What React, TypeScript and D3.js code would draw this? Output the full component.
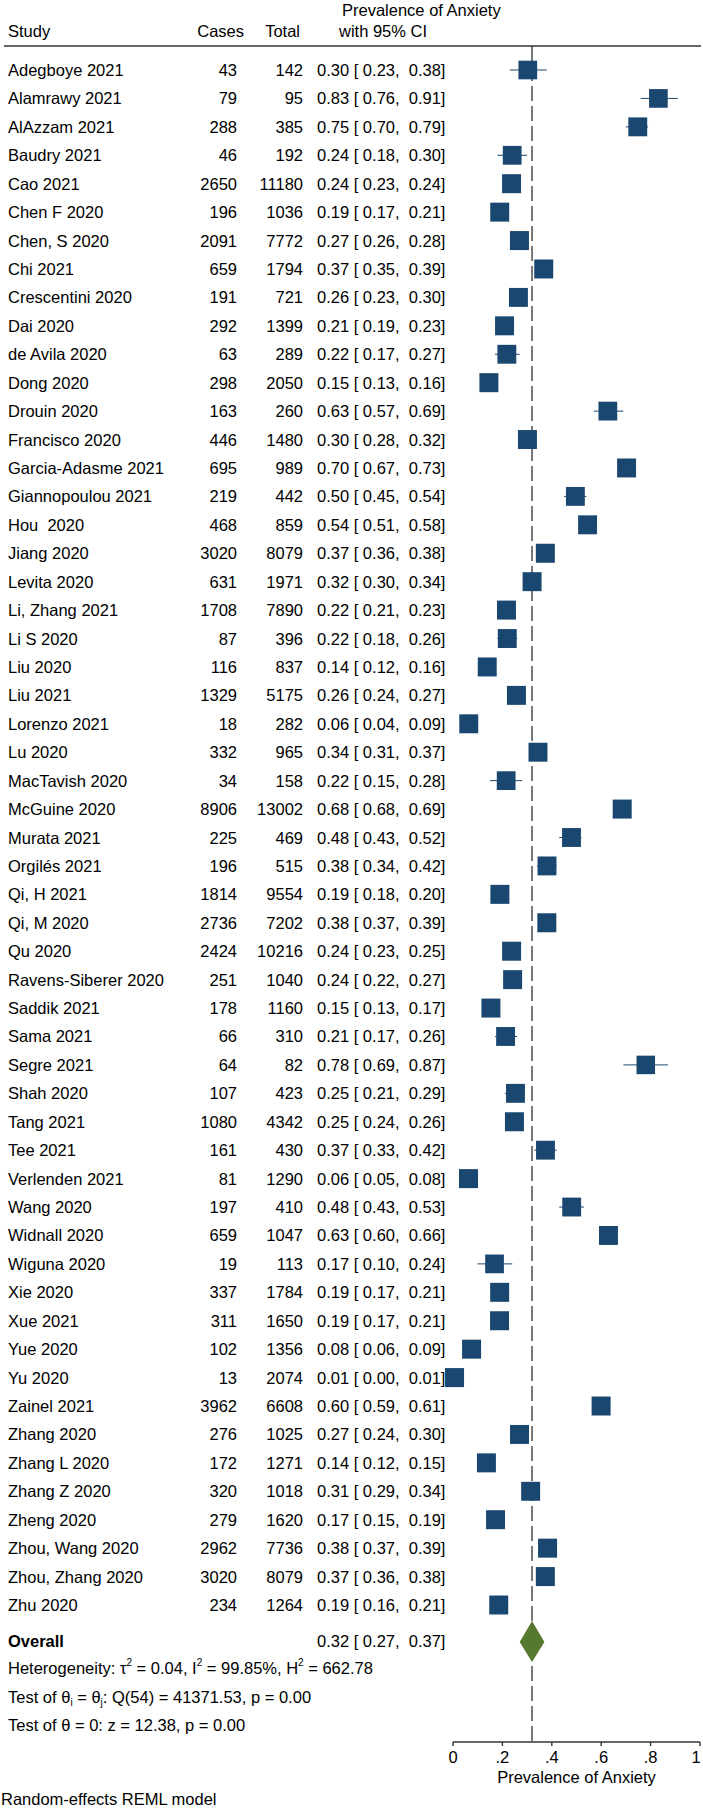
import React from "react";
import * as d3 from "d3";

const studies = [
  "Adegboye 2021", "Alamrawy 2021", "AlAzzam 2021", "Baudry 2021", "Cao 2021",
  "Chen F 2020", "Chen, S 2020", "Chi 2021", "Crescentini 2020", "Dai 2020",
  "de Avila 2020", "Dong 2020", "Drouin 2020", "Francisco 2020", "Garcia-Adasme 2021",
  "Giannopoulou 2021", "Hou  2020", "Jiang 2020", "Levita 2020", "Li, Zhang 2021",
  "Li S 2020", "Liu 2020", "Liu 2021", "Lorenzo 2021", "Lu 2020",
  "MacTavish 2020", "McGuine 2020", "Murata 2021", "Orgilés 2021", "Qi, H 2021",
  "Qi, M 2020", "Qu 2020", "Ravens-Siberer 2020", "Saddik 2021", "Sama 2021",
  "Segre 2021", "Shah 2020", "Tang 2021", "Tee 2021", "Verlenden 2021",
  "Wang 2020", "Widnall 2020", "Wiguna 2020", "Xie 2020", "Xue 2021",
  "Yue 2020", "Yu 2020", "Zainel 2021", "Zhang 2020", "Zhang L 2020",
  "Zhang Z 2020", "Zheng 2020", "Zhou, Wang 2020", "Zhou, Zhang 2020", "Zhu 2020",
];

const cases = [
  43, 79, 288, 46, 2650, 196, 2091, 659, 191, 292,
  63, 298, 163, 446, 695, 219, 468, 3020, 631, 1708,
  87, 116, 1329, 18, 332, 34, 8906, 225, 196, 1814,
  2736, 2424, 251, 178, 66, 64, 107, 1080, 161, 81,
  197, 659, 19, 337, 311, 102, 13, 3962, 276, 172,
  320, 279, 2962, 3020, 234,
];

const totals = [
  142, 95, 385, 192, 11180, 1036, 7772, 1794, 721, 1399,
  289, 2050, 260, 1480, 989, 442, 859, 8079, 1971, 7890,
  396, 837, 5175, 282, 965, 158, 13002, 469, 515, 9554,
  7202, 10216, 1040, 1160, 310, 82, 423, 4342, 430, 1290,
  410, 1047, 113, 1784, 1650, 1356, 2074, 6608, 1025, 1271,
  1018, 1620, 7736, 8079, 1264,
];

const es = [
  0.30, 0.83, 0.75, 0.24, 0.24, 0.19, 0.27, 0.37, 0.26, 0.21,
  0.22, 0.15, 0.63, 0.30, 0.70, 0.50, 0.54, 0.37, 0.32, 0.22,
  0.22, 0.14, 0.26, 0.06, 0.34, 0.22, 0.68, 0.48, 0.38, 0.19,
  0.38, 0.24, 0.24, 0.15, 0.21, 0.78, 0.25, 0.25, 0.37, 0.06,
  0.48, 0.63, 0.17, 0.19, 0.19, 0.08, 0.01, 0.60, 0.27, 0.14,
  0.31, 0.17, 0.38, 0.37, 0.19,
];

const lo = [
  0.23, 0.76, 0.70, 0.18, 0.23, 0.17, 0.26, 0.35, 0.23, 0.19,
  0.17, 0.13, 0.57, 0.28, 0.67, 0.45, 0.51, 0.36, 0.30, 0.21,
  0.18, 0.12, 0.24, 0.04, 0.31, 0.15, 0.68, 0.43, 0.34, 0.18,
  0.37, 0.23, 0.22, 0.13, 0.17, 0.69, 0.21, 0.24, 0.33, 0.05,
  0.43, 0.60, 0.10, 0.17, 0.17, 0.06, 0.00, 0.59, 0.24, 0.12,
  0.29, 0.15, 0.37, 0.36, 0.16,
];

const hi = [
  0.38, 0.91, 0.79, 0.30, 0.24, 0.21, 0.28, 0.39, 0.30, 0.23,
  0.27, 0.16, 0.69, 0.32, 0.73, 0.54, 0.58, 0.38, 0.34, 0.23,
  0.26, 0.16, 0.27, 0.09, 0.37, 0.28, 0.69, 0.52, 0.42, 0.20,
  0.39, 0.25, 0.27, 0.17, 0.26, 0.87, 0.29, 0.26, 0.42, 0.08,
  0.53, 0.66, 0.24, 0.21, 0.21, 0.09, 0.01, 0.61, 0.30, 0.15,
  0.34, 0.19, 0.39, 0.38, 0.21,
];

const overallEs = 0.32;
const overallLo = 0.27;
const overallHi = 0.37;
const tau2 = 0.04;

const xTicks = [0, 0.2, 0.4, 0.6, 0.8, 1];
const xTickLabels = ["0", ".2", ".4", ".6", ".8", "1"];

const W = 703;
const H = 1810;
const FONT = "'Liberation Sans', Arial, Helvetica, sans-serif";
const FS = 16.5;
const NAVY = "#1a476f";
const GREEN = "#56782f";
const LINE = "#333333";

const f2 = d3.format(".2f");

export default function App() {
  const x = d3.scaleLinear().domain([0, 1]).range([453, 700]);
  const y = d3.scalePoint<string>().domain(studies.map((_, i) => String(i))).range([70, 1605]);

  const weights = cases.map((c, i) => {
    const p = c / totals[i];
    return 1 / ((p * (1 - p)) / totals[i] + tau2);
  });
  const wMax = d3.max(weights) as number;
  const side = d3.scaleSqrt().domain([0, wMax]).range([0, 19]);

  const yOverall = 1641;
  const yAxis = 1742;
  const yHeaderLine = 46;

  const textProps = {
    fontFamily: FONT,
    fontSize: FS,
    fill: "#000",
    dominantBaseline: "central" as const,
  };

  return (
    <svg
      width={W}
      height={H}
      style={{ position: "absolute", left: 0, top: 0, display: "block", background: "#fff" }}
    >
      <rect x={0} y={0} width={W} height={H} fill="#fff" />
      {/* headers */}
      <text {...textProps} x={342} y={10}>Prevalence of Anxiety</text>
      <text {...textProps} x={8} y={31}>Study</text>
      <text {...textProps} x={244} y={31} textAnchor="end">Cases</text>
      <text {...textProps} x={300} y={31} textAnchor="end">Total</text>
      <text {...textProps} x={339} y={31}>with 95% CI</text>
      <line x1={4} x2={701} y1={yHeaderLine} y2={yHeaderLine} stroke={LINE} strokeWidth={1.4} />

      {/* overall reference line */}
      <line
        x1={x(overallEs)}
        x2={x(overallEs)}
        y1={yHeaderLine}
        y2={yAxis}
        stroke={LINE}
        strokeWidth={1.3}
        strokeDasharray="15,5"
      />

      {/* rows */}
      {studies.map((s, i) => {
        const yy = y(String(i)) as number;
        const p = cases[i] / totals[i];
        const sz = side(weights[i]);
        return (
          <g key={i}>
            <text {...textProps} x={8} y={yy} style={{ whiteSpace: "pre" }}>{s}</text>
            <text {...textProps} x={237} y={yy} textAnchor="end">{cases[i]}</text>
            <text {...textProps} x={303} y={yy} textAnchor="end">{totals[i]}</text>
            <text {...textProps} x={317} y={yy} style={{ whiteSpace: "pre" }}>
              {`${f2(es[i])} [ ${f2(lo[i])},  ${f2(hi[i])}]`}
            </text>
            <line x1={x(lo[i])} x2={x(hi[i])} y1={yy} y2={yy} stroke={NAVY} strokeWidth={1} />
            <rect x={x(p) - sz / 2} y={yy - sz / 2} width={sz} height={sz} fill={NAVY} />
          </g>
        );
      })}

      {/* overall */}
      <text {...textProps} x={8} y={yOverall} fontWeight="bold">Overall</text>
      <text {...textProps} x={317} y={yOverall} style={{ whiteSpace: "pre" }}>
        {`${f2(overallEs)} [ ${f2(overallLo)},  ${f2(overallHi)}]`}
      </text>
      <path
        d={`M${x(overallLo)},${yOverall + 1} L${x(overallEs)},${yOverall - 20} L${x(overallHi)},${yOverall + 1} L${x(overallEs)},${yOverall + 21} Z`}
        fill={GREEN}
      />

      {/* stats */}
      <text {...textProps} x={8} y={1668}>
        Heterogeneity: τ
        <tspan fontSize={10} dy={-6}>2</tspan>
        <tspan dy={6}> = 0.04, I</tspan>
        <tspan fontSize={10} dy={-6}>2</tspan>
        <tspan dy={6}> = 99.85%, H</tspan>
        <tspan fontSize={10} dy={-6}>2</tspan>
        <tspan dy={6}> = 662.78</tspan>
      </text>
      <text {...textProps} x={8} y={1697}>
        Test of θ
        <tspan fontSize={10} dy={5}>i</tspan>
        <tspan dy={-5}> = θ</tspan>
        <tspan fontSize={10} dy={5}>j</tspan>
        <tspan dy={-5}>: Q(54) = 41371.53, p = 0.00</tspan>
      </text>
      <text {...textProps} x={8} y={1725}>Test of θ = 0: z = 12.38, p = 0.00</text>

      {/* axis */}
      <line x1={x(0)} x2={x(1)} y1={yAxis} y2={yAxis} stroke={LINE} strokeWidth={1.4} />
      {xTicks.map((t, i) => (
        <g key={t}>
          <line x1={x(t)} x2={x(t)} y1={yAxis} y2={yAxis + 4} stroke={LINE} strokeWidth={1.4} />
          <text
            {...textProps}
            x={Math.min(x(t), W - 7)}
            y={1757}
            textAnchor="middle"
          >
            {xTickLabels[i]}
          </text>
        </g>
      ))}
      <text {...textProps} x={(x(0) + x(1)) / 2} y={1777} textAnchor="middle">Prevalence of Anxiety</text>

      <text {...textProps} x={1} y={1799}>Random-effects REML model</text>
    </svg>
  );
}
